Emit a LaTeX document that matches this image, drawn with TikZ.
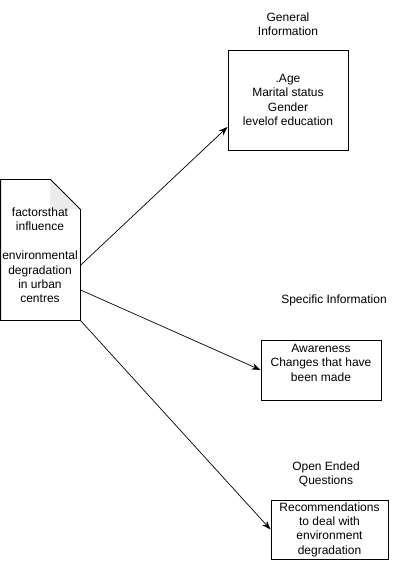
\documentclass[tikz,border=0pt]{standalone}
\usepackage{fontspec}
\setmainfont{Liberation Sans}
\usetikzlibrary{arrows.meta}

\begin{document}
\begin{tikzpicture}[x=1pt,y=-1pt,line width=0.9pt,
    font=\fontsize{12}{14.4}\selectfont,
    infobox/.style={draw,align=center,inner sep=0pt},
    heading/.style={align=center,inner sep=0pt},
    note/.style={inner sep=0pt,minimum width=79pt,minimum height=140pt},
    link/.style={-{Stealth[length=9pt,width=6.5pt]},line width=0.7pt}]
      \useasboundingbox (0,0) rectangle (401,561);
      \node[note] (factors) at (40.5,250) {};
      \fill[black!8] ([xshift=-30pt]factors.north east) -- ([yshift=-30pt]factors.north east)
        -- ([xshift=-30pt,yshift=-30pt]factors.north east) -- cycle;
      \draw (factors.north west) -- ([xshift=-30pt]factors.north east)
        -- ([yshift=-30pt]factors.north east) -- (factors.south east)
        -- (factors.south west) -- cycle;
      \node[heading] (factorstext) at (40,255.5)
        {factorsthat\\influence\\~\\environmental\\degradation\\in urban\\centres};
      \node[heading] (general) at (288,24) {General\\Information};
      \node[infobox,minimum width=120pt,minimum height=100pt] (personal) at (288,100)
        {.Age\\Marital status\\Gender\\levelof education};
      \node[heading] (specific) at (334,300) {Specific Information};
      \node[infobox,minimum width=120pt,minimum height=60pt,text depth=15pt] (awareness) at (321,370)
        {Awareness\\Changes that have\\been made};
      \node[heading] (openended) at (326,474.5) {Open Ended\\Questions};
      \node[infobox,minimum width=117pt,minimum height=59pt] (recommend) at (329.5,529.5)
        {Recommendations\\to deal with\\environment\\degradation};
      \draw[link] (factors.-21) -- (personal.204);
      \draw[link] (factors.-45) -- (awareness.west);
      \draw[link] (factors.south east) -- (recommend.west);
\end{tikzpicture}
\end{document}
